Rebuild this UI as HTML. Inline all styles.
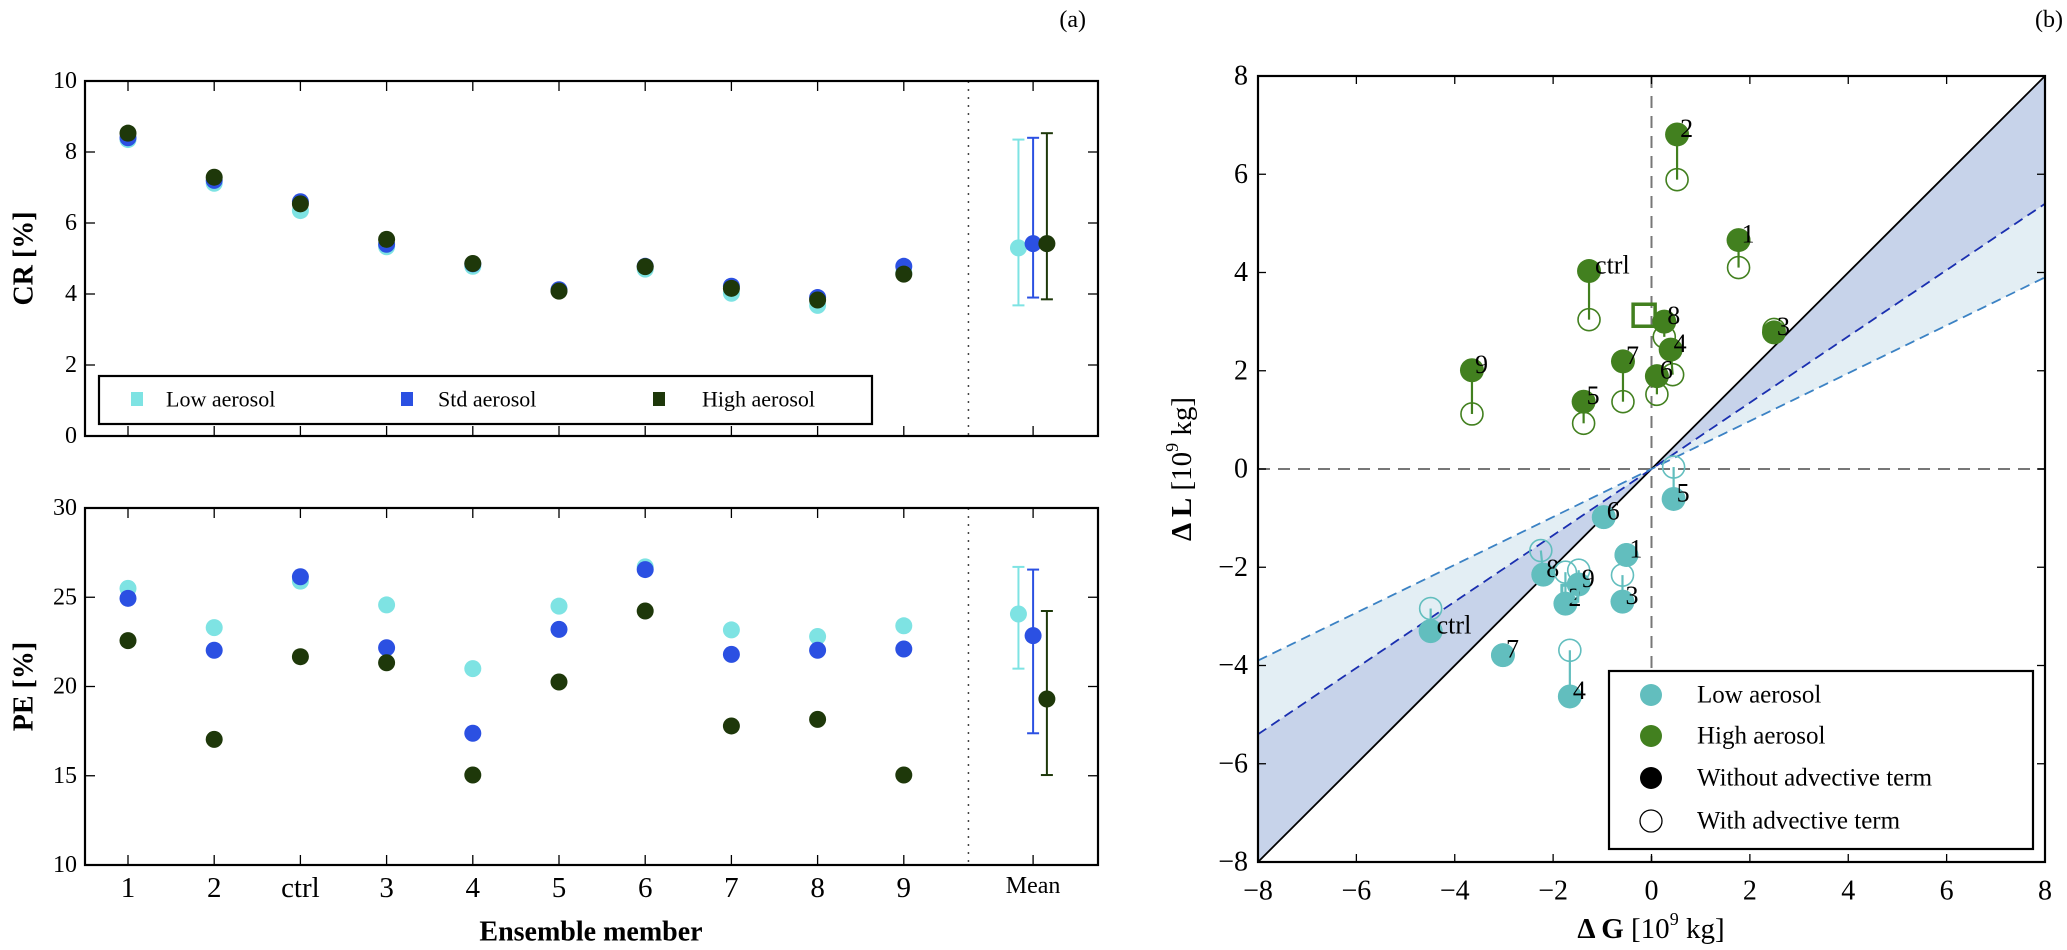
<!DOCTYPE html>
<html><head><meta charset="utf-8"><style>
html,body{margin:0;padding:0;background:#fff;}
svg{display:block;font-family:"Liberation Serif","DejaVu Serif",serif;}
</style></head><body>
<svg id="fig" width="2067" height="950" viewBox="0 0 2067 950" xmlns="http://www.w3.org/2000/svg"></svg>
<script>
// ---------- Panel (a) data ----------
const members = ["1","2","ctrl","3","4","5","6","7","8","9"];
const crLow  = [8.35,7.12,6.35,5.33,4.78,4.10,4.70,4.02,3.68,4.60];
const crStd  = [8.40,7.20,6.60,5.40,4.85,4.12,4.78,4.22,3.90,4.78];
const crHigh = [8.53,7.29,6.54,5.54,4.86,4.08,4.77,4.16,3.83,4.56];
const crMean = [5.30,5.42,5.42];
const crErrLo = [3.68,3.90,3.85];
const crErrHi = [8.35,8.40,8.53];
const peLow  = [25.5,23.3,25.9,24.57,21.0,24.5,26.7,23.17,22.8,23.4];
const peStd  = [24.94,22.03,26.15,22.17,17.38,23.2,26.55,21.8,22.03,22.1];
const peHigh = [22.57,17.04,21.67,21.33,15.04,20.25,24.23,17.79,18.16,15.04];
const peMean = [24.06,22.85,19.3];
const peErrLo = [21.0,17.38,15.04];
const peErrHi = [26.7,26.55,24.23];
const crTicks = [0,2,4,6,8,10];
const peTicks = [10,15,20,25,30];
// ---------- Panel (b) data ----------
const hiLabels = ["2","1","ctrl","8","3","4","7","6","9","5"];
const hiG      = [0.52,1.77,-1.27,0.26,2.49,0.39,-0.58,0.11,-3.65,-1.38];
const hiL      = [6.81,4.66,4.03,3.00,2.78,2.43,2.19,1.89,2.01,1.37];
const hiGadv   = [0.52,1.77,-1.27,0.26,2.49,0.43,-0.58,0.11,-3.65,-1.38];
const hiLadv   = [5.89,4.10,3.04,2.69,2.84,1.92,1.37,1.52,1.12,0.93];
const loLabels = ["5","6","1","8","9","2","3","ctrl","7","4"];
const loG      = [0.45,-0.97,-0.51,-2.20,-1.48,-1.75,-0.59,-4.49,-3.02,-1.66];
const loL      = [-0.61,-0.98,-1.75,-2.15,-2.35,-2.74,-2.70,-3.30,-3.79,-4.63];
const loGadv   = [0.45,-0.97,-0.51,-2.25,-1.48,-1.75,-0.59,-4.49,-3.02,-1.66];
const loLadv   = [0.04,-0.98,-1.75,-1.66,-2.06,-2.10,-2.16,-2.84,-3.79,-3.69];
const hiMeanSq = [-0.15,3.13];
const loMeanSq = [-1.66,-2.53];
const slopes = [1,0.675,0.4875];
const bTicks = [-8,-6,-4,-2,0,2,4,6,8];

const NS="http://www.w3.org/2000/svg";
const svg=document.getElementById('fig');
function mk(tag,attrs,parent){const e=document.createElementNS(NS,tag);for(const k in attrs)e.setAttribute(k,attrs[k]);(parent||svg).appendChild(e);return e;}
function txt(s,x,y,size,anchor,parent,extra){const t=mk('text',Object.assign({x:x,y:y,'font-size':size,'text-anchor':anchor||'middle','dominant-baseline':'central',fill:'#000'},extra||{}),parent);t.textContent=s;return t;}

const cLow="#7ee3e3", cStd="#2b50e2", cHigh="#1e380a";
// x axis for panel a
const ax=i=>128+86.2*i;
const AL=85, AR=1098;

function panelA(top,bottom,vmin,vmax,ticks,low,std,high,mean,elo,ehi,name,ylabel,showX){
  const g=mk('g',{});  
  const ay=v=>bottom-(v-vmin)/(vmax-vmin)*(bottom-top);
  // ticks
  members.forEach((m,i)=>{mk('line',{x1:ax(i),x2:ax(i),y1:top,y2:top+10,stroke:'#000','stroke-width':1.3},g);mk('line',{x1:ax(i),x2:ax(i),y1:bottom,y2:bottom-10,stroke:'#000','stroke-width':1.3},g);});
  mk('line',{x1:ax(10.5),x2:ax(10.5),y1:top,y2:top+10,stroke:'#000','stroke-width':1.3},g);
  mk('line',{x1:ax(10.5),x2:ax(10.5),y1:bottom,y2:bottom-10,stroke:'#000','stroke-width':1.3},g);
  ticks.forEach(v=>{mk('line',{x1:AL,x2:AL+10,y1:ay(v),y2:ay(v),stroke:'#000','stroke-width':1.3},g);mk('line',{x1:AR,x2:AR-10,y1:ay(v),y2:ay(v),stroke:'#000','stroke-width':1.3},g);
    const t=txt(String(v),AL-8,ay(v),24,'end',g);  });
  // dotted separator
  mk('line',{x1:ax(9.75),x2:ax(9.75),y1:top,y2:bottom,stroke:'#444','stroke-width':1.5,'stroke-dasharray':'2,6'},g);
  // points
  [[low,cLow,'low'],[std,cStd,'std'],[high,cHigh,'high']].forEach(([arr,c,n])=>{
    arr.forEach((v,i)=>{const p=mk('circle',{cx:ax(i),cy:ay(v),r:8.5,fill:c},g);
       });
  });
  // mean w/ errorbars
  const off=[-0.17,0,0.16], cols=[cLow,cStd,cHigh];
  mean.forEach((v,k)=>{const x=ax(10.5+off[k]);
    const eb=mk('g',{},g);  
    mk('line',{x1:x,x2:x,y1:ay(elo[k]),y2:ay(ehi[k]),stroke:cols[k],'stroke-width':2},eb);
    mk('line',{x1:x-6,x2:x+6,y1:ay(elo[k]),y2:ay(elo[k]),stroke:cols[k],'stroke-width':2},eb);
    mk('line',{x1:x-6,x2:x+6,y1:ay(ehi[k]),y2:ay(ehi[k]),stroke:cols[k],'stroke-width':2},eb);
    mk('circle',{cx:x,cy:ay(v),r:8.5,fill:cols[k]},eb);
  });
  mk('rect',{x:AL,y:top,width:AR-AL,height:bottom-top,fill:'none',stroke:'#000','stroke-width':2.2},g);
  const yl=txt(ylabel,0,0,28,'middle',g,{transform:`translate(24,${(top+bottom)/2}) rotate(-90)`,'font-weight':'bold'});
   
  if(showX){
    members.forEach((m,i)=>{const t=txt(m,ax(i),888,29,'middle',g);  });
    const t=txt('Mean',ax(10.5),886,24,'middle',g);  
  }
  return g;
}
panelA(81,436,0,10,crTicks,crLow,crStd,crHigh,crMean,crErrLo,crErrHi,'cr-panel','CR [%]',false);
panelA(508,865,10,30,peTicks,peLow,peStd,peHigh,peMean,peErrLo,peErrHi,'pe-panel','PE [%]',true);
const xt=txt('Ensemble member',591,932,28,'middle',null,{'font-weight':'bold'});
 

// legend a
const lg=mk('g',{});  
mk('rect',{x:99,y:376,width:773,height:48,fill:'#fff',stroke:'#000','stroke-width':2.2},lg);
[[137,166,cLow,'Low aerosol'],[407,438,cStd,'Std aerosol'],[659,702,cHigh,'High aerosol']].forEach(([mx,tx,c,s])=>{
  const e=mk('g',{},lg);  
  mk('rect',{x:mx-6,y:392,width:12,height:14,fill:c},e); txt(s,tx,399,22,'start',e);
});
const la=txt('(a)',1086,20,24,'end');  

// ---------- Panel b ----------
const BL=1258,BR=2045,BT=76,BB=862;
const bx=v=>BL+(v+8)/16*(BR-BL);
const by=v=>BB-(v+8)/16*(BB-BT);
const gb=mk('g',{});  
// shaded regions
const poly=(a,b,fill)=>mk('polygon',{points:`${bx(-8)},${by(-8*a)} ${bx(0)},${by(0)} ${bx(8)},${by(8*a)} ${bx(8)},${by(8*b)} ${bx(0)},${by(0)} ${bx(-8)},${by(-8*b)}`,fill:fill},gb);
const s1=poly(slopes[0],slopes[1],'#c7d3ea');  
const s2=poly(slopes[1],slopes[2],'#e3eef4');  
mk('line',{x1:bx(0),x2:bx(0),y1:BT,y2:BB,stroke:'#777','stroke-width':2,'stroke-dasharray':'12,8'},gb);
mk('line',{x1:BL,x2:BR,y1:by(0),y2:by(0),stroke:'#777','stroke-width':2,'stroke-dasharray':'12,8'},gb);
const l1=mk('line',{x1:bx(-8),y1:by(-8*slopes[0]),x2:bx(8),y2:by(8*slopes[0]),stroke:'#000','stroke-width':1.8},gb);
 
const l2=mk('line',{x1:bx(-8),y1:by(-8*slopes[1]),x2:bx(8),y2:by(8*slopes[1]),stroke:'#1a2fb0','stroke-width':1.8,'stroke-dasharray':'10,6'},gb);
 
const l3=mk('line',{x1:bx(-8),y1:by(-8*slopes[2]),x2:bx(8),y2:by(8*slopes[2]),stroke:'#3b82c4','stroke-width':1.8,'stroke-dasharray':'10,6'},gb);
 

function series(G,L,Ga,La,labels,col,name){
  G.forEach((g,i)=>{
    const e=mk('g',{},gb);  
    mk('line',{x1:bx(g),y1:by(L[i]),x2:bx(Ga[i]),y2:by(La[i]),stroke:col,'stroke-width':2.2},e);
    mk('circle',{cx:bx(Ga[i]),cy:by(La[i]),r:11,fill:'none',stroke:col,'stroke-width':1.6},e);
    mk('circle',{cx:bx(g),cy:by(L[i]),r:12,fill:col},e);
    txt(labels[i],bx(g)+(labels[i]==='ctrl'?6:3),by(L[i])-6,26,'start',e);
  });
}
series(loG,loL,loGadv,loLadv,loLabels,'#62bebe','low');
series(hiG,hiL,hiGadv,hiLadv,hiLabels,'#42801f','high');
const sq1=mk('rect',{x:bx(hiMeanSq[0])-11,y:by(hiMeanSq[1])-11,width:22,height:22,fill:'none',stroke:'#42801f','stroke-width':3.5},gb);
 
const sq2=mk('rect',{x:bx(loMeanSq[0])-8,y:by(loMeanSq[1])-8,width:16,height:16,fill:'none',stroke:'#62bebe','stroke-width':3},gb);
 
// ticks
bTicks.forEach(v=>{
  mk('line',{x1:bx(v),x2:bx(v),y1:BB,y2:BB-8,stroke:'#000','stroke-width':1.3},gb);
  mk('line',{x1:bx(v),x2:bx(v),y1:BT,y2:BT+8,stroke:'#000','stroke-width':1.3},gb);
  mk('line',{x1:BL,x2:BL+8,y1:by(v),y2:by(v),stroke:'#000','stroke-width':1.3},gb);
  mk('line',{x1:BR,x2:BR-8,y1:by(v),y2:by(v),stroke:'#000','stroke-width':1.3},gb);
  const lab=(v<0?'\u2212':'')+Math.abs(v);
  const tx=txt(lab,bx(v),891,28,'middle',gb);  
  const ty=txt(lab,BL-10,by(v),28,'end',gb);  
});
mk('rect',{x:BL,y:BT,width:BR-BL,height:BB-BT,fill:'none',stroke:'#000','stroke-width':2.2},gb);
const xb=mk('text',{x:1651,y:929,'font-size':29,'text-anchor':'middle','dominant-baseline':'central'},gb);
xb.innerHTML='<tspan font-weight="bold">\u0394 G</tspan> [10<tspan font-size="18" dy="-10">9</tspan><tspan dy="10"> kg]</tspan>';
 
const yb=mk('text',{x:0,y:0,'font-size':29,'text-anchor':'middle','dominant-baseline':'central',transform:'translate(1182,469) rotate(-90)'},gb);
yb.innerHTML='<tspan font-weight="bold">\u0394 L</tspan> [10<tspan font-size="18" dy="-10">9</tspan><tspan dy="10"> kg]</tspan>';
 
// legend b
const lb=mk('g',{});  
mk('rect',{x:1609,y:671,width:424,height:178,fill:'#fff',stroke:'#000','stroke-width':2.2},lb);
[[695,'#62bebe',true,'Low aerosol'],[736,'#42801f',true,'High aerosol'],[778,'#000',true,'Without advective term'],[821,'#000',false,'With advective term']].forEach(([y,c,f,s])=>{
  const e=mk('g',{},lb);  
  mk('circle',{cx:1651,cy:y,r:11,fill:f?c:'none',stroke:c,'stroke-width':f?0:1.3},e);
  txt(s,1697,y,25,'start',e);
});
const lbb=txt('(b)',2063,20,24,'end');  
</script>
</body></html>
